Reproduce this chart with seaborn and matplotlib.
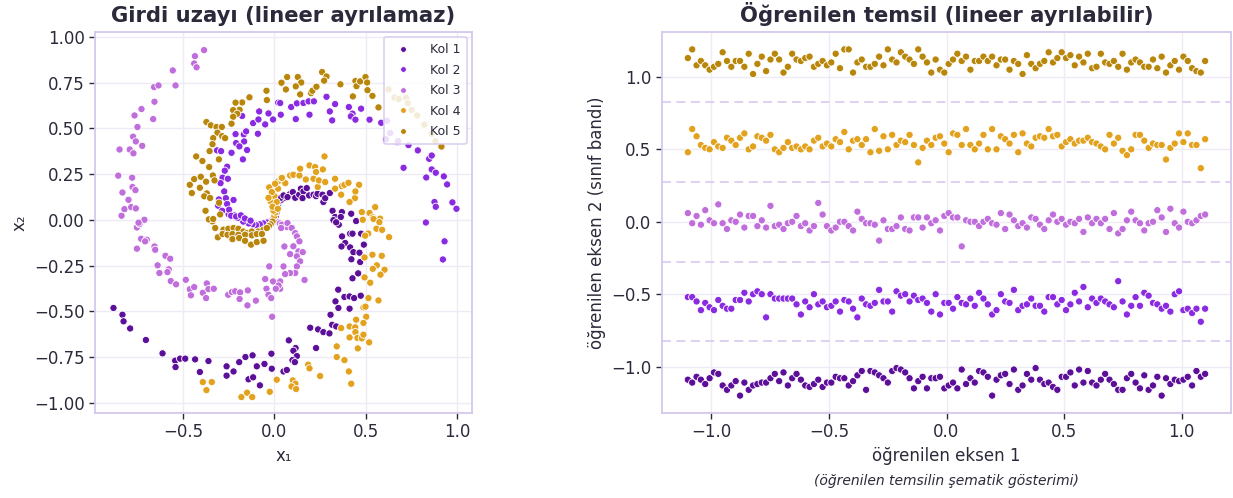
import numpy as np
import pandas as pd
import matplotlib
matplotlib.use("Agg")
import matplotlib.pyplot as plt
import seaborn as sns

# ---------------- data ----------------
class_names = ["Kol 1", "Kol 2", "Kol 3", "Kol 4", "Kol 5"]
class_colors = ["#5c0f99", "#8a2be2", "#c06edc", "#e2a21e", "#b8860b"]

# Input space (spiral arms), (x1, x2)
kol1_pts = [
    (0.003, 0.005), (0.008, 0.02), (0.012, 0.04), (0.016, 0.06), (0.02, 0.08), (0.025, 0.10),
    (0.04, 0.11), (0.06, 0.12), (0.085, 0.14),
    (0.032, 0.118), (0.050, 0.133), (0.072, 0.124), (0.101, 0.151), (0.114, 0.120), (0.136, 0.137),
    (0.145, 0.170), (0.159, 0.155), (0.154, 0.118), (0.177, 0.173), (0.190, 0.133), (0.214, 0.137),
    (0.228, 0.129), (0.236, 0.142), (0.263, 0.137), (0.268, 0.097), (0.278, 0.118), (0.303, 0.146),
    (0.318, 0.049), (0.332, 0.015), (0.369, 0.042), (0.363, 0.015), (0.420, 0.033), (0.447, -0.007),
    (0.323, -0.002), (0.352, -0.027), (0.338, -0.014), (0.370, -0.091), (0.414, -0.076), (0.427, -0.076),
    (0.474, -0.076), (0.387, -0.127), (0.367, -0.146), (0.414, -0.151), (0.432, -0.177), (0.465, -0.180),
    (0.489, -0.136), (0.421, -0.216), (0.469, -0.231), (0.458, -0.293), (0.427, -0.320), (0.349, -0.382),
    (0.383, -0.422), (0.411, -0.419), (0.436, -0.428), (0.472, -0.415), (0.334, -0.446), (0.350, -0.482),
    (0.411, -0.486), (0.307, -0.519), (0.316, -0.574), (0.338, -0.583), (0.196, -0.590), (0.239, -0.599),
    (0.268, -0.614), (0.301, -0.621), (0.079, -0.659), (0.116, -0.701), (0.104, -0.716), (0.123, -0.745),
    (0.099, -0.767), (0.112, -0.778), (0.050, -0.829), (0.068, -0.821), (0.228, -0.701),
    (-0.879, -0.482), (-0.830, -0.519), (-0.824, -0.555), (-0.788, -0.594), (-0.702, -0.657),
    (-0.611, -0.730), (-0.542, -0.770), (-0.540, -0.805), (-0.515, -0.759), (-0.487, -0.759),
    (-0.433, -0.763), (-0.360, -0.772), (-0.407, -0.832), (-0.261, -0.801), (-0.261, -0.852),
    (-0.223, -0.829), (-0.192, -0.778), (-0.158, -0.750), (-0.119, -0.741), (-0.096, -0.801),
    (-0.054, -0.788), (-0.014, -0.814), (-0.141, -0.872), (-0.116, -0.861), (-0.079, -0.905),
    (-0.016, -0.732),
]
kol2_pts = [
    (-0.01, 0.0), (-0.02, -0.01), (-0.04, -0.015), (-0.06, -0.02), (-0.08, -0.025), (-0.10, -0.03),
    (-0.12, -0.025), (-0.14, -0.02), (-0.17, -0.01), (-0.20, 0.01), (-0.22, 0.025), (-0.25, 0.03),
    (0.021, 0.640), (0.035, 0.574), (-0.083, 0.592), (-0.032, 0.581), (-0.007, 0.548), (-0.116, 0.528),
    (-0.087, 0.548), (-0.050, 0.521), (-0.090, 0.470), (-0.176, 0.567), (-0.167, 0.466), (-0.212, 0.468),
    (-0.234, 0.366), (-0.154, 0.483), (-0.165, 0.428), (-0.209, 0.419), (-0.191, 0.401), (-0.149, 0.381),
    (-0.172, 0.330), (-0.313, 0.379), (-0.291, 0.375), (-0.258, 0.290), (-0.271, 0.268), (-0.283, 0.230),
    (-0.254, 0.224), (-0.294, 0.200), (-0.274, 0.155), (-0.265, 0.118), (-0.223, 0.108), (-0.303, 0.111),
    (-0.307, 0.077), (-0.285, 0.049), (-0.258, 0.086), (-0.247, 0.055), (-0.236, 0.022), (-0.209, 0.018),
    (-0.183, 0.024), (-0.161, 0.007), (-0.130, -0.005),
    (0.032, 0.638), (0.092, 0.616), (0.123, 0.636), (0.159, 0.638), (0.187, 0.647), (0.216, 0.647),
    (0.192, 0.574), (0.117, 0.550), (0.285, 0.672), (0.332, 0.632), (0.303, 0.592), (0.316, 0.543),
    (0.407, 0.616), (0.427, 0.580), (0.418, 0.565), (0.443, 0.547), (0.474, 0.607), (0.520, 0.547),
    (0.584, 0.530), (0.615, 0.541), (0.609, 0.434), (0.633, 0.474), (0.673, 0.424), (0.733, 0.408),
    (0.784, 0.379), (0.846, 0.333), (0.860, 0.351), (0.706, 0.284), (0.830, 0.231), (0.860, 0.275),
    (0.882, 0.257), (0.926, 0.237), (0.944, 0.193), (0.875, 0.097), (0.882, 0.071), (0.973, 0.095),
    (0.995, 0.060), (0.828, -0.015), (0.930, -0.118), (0.921, -0.217), (0.61, 0.44), (0.676, 0.43),
]
kol3_pts = [
    (0.01, -0.01), (0.02, -0.015), (0.03, -0.02), (0.05, -0.03), (0.07, -0.04),
    (0.041, -0.027), (0.072, -0.018), (0.095, -0.045), (0.114, -0.073), (0.123, -0.091), (0.137, -0.118),
    (0.104, -0.145), (0.132, -0.173), (0.155, -0.177), (0.086, -0.188), (0.054, -0.149), (0.123, -0.200),
    (0.141, -0.227), (0.123, -0.255), (0.114, -0.291), (0.050, -0.255), (0.086, -0.291), (0.059, -0.297),
    (0.165, -0.329), (0.032, -0.337), (0.032, -0.377),
    (-0.751, -0.042), (-0.737, -0.024), (-0.710, 0.000), (-0.728, -0.104), (-0.697, -0.109),
    (-0.706, -0.118), (-0.751, -0.158), (-0.655, -0.146), (-0.651, -0.164), (-0.595, -0.197),
    (-0.569, -0.213), (-0.638, -0.249), (-0.577, -0.271), (-0.584, -0.286), (-0.628, -0.291),
    (-0.566, -0.335), (-0.537, -0.353), (-0.484, -0.328), (-0.462, -0.380), (-0.438, -0.368),
    (-0.456, -0.413), (-0.391, -0.399), (-0.369, -0.348), (-0.360, -0.379), (-0.331, -0.377),
    (-0.373, -0.428), (-0.252, -0.410), (-0.232, -0.395), (-0.214, -0.391), (-0.187, -0.397),
    (-0.145, -0.386), (-0.190, -0.433), (-0.147, -0.468), (-0.101, -0.442), (-0.012, -0.530),
    (-0.050, -0.324), (-0.028, -0.255), (-0.007, -0.337), (0.023, -0.359), (0.008, -0.377),
    (-0.043, -0.377), (-0.032, -0.410), (-0.017, -0.428), (0.037, -0.045), (0.055, -0.146),
    (-0.384, 0.927), (-0.434, 0.894), (-0.438, 0.854), (-0.425, 0.833), (-0.555, 0.816), (-0.540, 0.734),
    (-0.657, 0.725), (-0.633, 0.734), (-0.655, 0.645), (-0.726, 0.605), (-0.764, 0.570), (-0.662, 0.550),
    (-0.748, 0.507), (-0.772, 0.454), (-0.757, 0.428), (-0.722, 0.404), (-0.846, 0.384), (-0.790, 0.384),
    (-0.770, 0.363), (-0.853, 0.241), (-0.777, 0.230), (-0.775, 0.179), (-0.759, 0.162), (-0.830, 0.149),
    (-0.797, 0.109), (-0.819, 0.058), (-0.782, 0.069), (-0.757, 0.062), (-0.835, 0.022), (-0.742, -0.016),
]
kol4_pts = [
    (0.0, 0.02), (0.005, 0.04), (-0.005, 0.05), (0.01, 0.08), (-0.02, 0.10), (0.0, 0.13), (0.02, 0.17),
    (0.05, 0.21), (0.06, 0.20), (0.02, 0.21), (0.037, 0.229), (-0.028, 0.177), (0.004, 0.197),
    (-0.014, 0.151), (-0.032, 0.120), (0.013, 0.097), (-0.010, 0.071), (0.019, 0.060),
    (0.041, 0.229), (0.086, 0.242), (0.104, 0.246), (0.137, 0.242), (0.141, 0.279), (0.192, 0.297),
    (0.223, 0.288), (0.228, 0.261), (0.274, 0.346), (0.265, 0.275), (0.172, 0.220), (0.214, 0.224),
    (0.237, 0.179), (0.243, 0.215), (0.278, 0.206), (0.332, 0.224), (0.332, 0.170), (0.369, 0.184),
    (0.383, 0.191), (0.405, 0.202), (0.463, 0.191), (0.365, 0.137), (0.440, 0.118), (0.411, 0.097),
    (0.443, 0.155), (0.478, 0.042), (0.520, 0.037), (0.551, 0.069), (0.538, 0.013), (0.578, 0.006),
    (0.483, 0.000), (0.542, 0.004), (0.574, -0.013), (0.558, -0.049), (0.589, -0.055), (0.627, -0.095),
    (0.513, -0.075), (0.496, -0.087), (0.536, -0.191), (0.587, -0.197), (0.493, -0.206), (0.560, -0.249),
    (0.538, -0.268), (0.602, -0.273), (0.580, -0.300), (0.493, -0.315), (0.524, -0.344), (0.514, -0.428),
    (0.569, -0.441), (0.487, -0.479), (0.498, -0.475), (0.502, -0.530), (0.447, -0.546), (0.487, -0.564),
    (0.411, -0.583), (0.442, -0.588), (0.365, -0.592), (0.443, -0.614), (0.411, -0.643), (0.454, -0.646),
    (0.478, -0.648), (0.487, -0.628), (0.518, -0.670), (0.341, -0.692), (0.456, -0.703), (0.341, -0.750),
    (0.383, -0.767), (0.185, -0.792), (0.192, -0.812), (0.407, -0.829), (0.250, -0.854), (0.420, -0.896),
    (0.101, -0.878), (0.115, -0.896), (0.094, -0.911), (0.119, -0.925),
    (-0.391, -0.887), (-0.342, -0.887), (-0.371, -0.931), (-0.180, -0.969), (-0.149, -0.945),
    (-0.121, -0.969), (-0.025, -0.940), (0.013, -0.874),
]
kol5_pts = [
    (-0.01, -0.01), (-0.02, -0.025), (-0.03, -0.035),
    (-0.354, 0.000), (-0.338, -0.009), (-0.278, -0.054), (-0.251, -0.049), (-0.223, -0.045),
    (-0.196, -0.049), (-0.169, -0.064), (-0.150, -0.073), (-0.123, -0.064), (-0.087, -0.064),
    (-0.059, -0.054), (-0.041, -0.045), (-0.309, -0.096), (-0.283, -0.078), (-0.256, -0.082),
    (-0.229, -0.078), (-0.196, -0.082), (-0.160, -0.082), (-0.123, -0.085), (-0.096, -0.078),
    (-0.068, -0.078), (-0.229, -0.106), (-0.192, -0.100), (-0.160, -0.115), (-0.127, -0.136),
    (-0.096, -0.122), (-0.059, -0.115), (-0.323, -0.045),
    (0.037, 0.747), (-0.043, 0.705), (-0.041, 0.654), (-0.136, 0.669), (-0.176, 0.641), (-0.212, 0.640),
    (-0.190, 0.601), (-0.225, 0.599), (-0.203, 0.579), (-0.225, 0.563), (-0.234, 0.525), (-0.371, 0.534),
    (-0.347, 0.516), (-0.316, 0.507), (-0.287, 0.507), (-0.311, 0.476), (-0.285, 0.457), (-0.269, 0.446),
    (-0.334, 0.446), (-0.338, 0.413), (-0.354, 0.375), (-0.303, 0.330), (-0.427, 0.346), (-0.393, 0.321),
    (-0.356, 0.288), (-0.336, 0.242), (-0.438, 0.222), (-0.402, 0.235), (-0.373, 0.208), (-0.327, 0.215),
    (-0.462, 0.191), (-0.407, 0.175), (-0.451, 0.146), (-0.369, 0.144), (-0.383, 0.128), (-0.351, 0.119),
    (-0.302, 0.093), (-0.296, 0.029), (-0.376, 0.049), (-0.358, 0.002), (-0.334, 0.004),
    (0.039, 0.749), (0.070, 0.780), (0.128, 0.780), (0.147, 0.750), (0.063, 0.712), (0.117, 0.729),
    (0.141, 0.685), (0.201, 0.692), (0.208, 0.705), (0.230, 0.727), (0.261, 0.807), (0.285, 0.783),
    (0.272, 0.760), (0.361, 0.740), (0.429, 0.674), (0.443, 0.758), (0.449, 0.730), (0.469, 0.756),
    (0.498, 0.780), (0.507, 0.750), (0.509, 0.708), (0.536, 0.677), (0.569, 0.614), (0.624, 0.712),
    (0.656, 0.668), (0.720, 0.666), (0.729, 0.637), (0.68, 0.66), (0.75, 0.60), (0.78, 0.57),
    (0.82, 0.52), (0.86, 0.47), (0.88, 0.43), (0.913, 0.400),
]

# Learned representation: 120 samples per class along axis 1, axis-2 values read per point
n_per_class = 120
axis1_positions = np.linspace(-1.1, 1.1, n_per_class)
band_kol5 = [1.13,1.19,1.08,1.11,1.08,1.05,1.07,1.09,1.17,1.11,
             1.07,1.11,1.11,1.07,1.16,1.02,1.09,1.14,1.04,1.12,
             1.16,1.12,1.03,1.07,1.16,1.12,1.11,1.13,1.14,1.07,
             1.09,1.11,1.08,1.10,1.16,1.06,1.19,1.19,1.03,1.10,
             1.12,1.07,1.07,1.09,1.14,1.08,1.19,1.12,1.10,1.17,
             1.14,1.12,1.09,1.19,1.14,1.10,1.03,1.12,1.05,1.03,
             1.09,1.12,1.16,1.11,1.14,1.05,1.11,1.11,1.14,1.11,
             1.14,1.08,1.12,1.12,1.05,1.11,1.09,1.02,1.15,1.09,
             1.06,1.09,1.11,1.17,1.10,1.13,1.17,1.13,1.15,1.08,
             1.14,1.10,1.16,1.06,1.07,1.16,1.10,1.09,1.11,1.07,
             1.16,1.05,1.10,1.12,1.10,1.07,1.07,1.12,1.06,1.14,
             1.03,1.08,1.11,1.05,1.14,1.11,1.06,1.04,1.03,1.11]
band_kol4 = [0.48,0.64,0.59,0.53,0.51,0.50,0.55,0.52,0.51,0.58,
             0.56,0.53,0.58,0.61,0.50,0.52,0.59,0.58,0.56,0.60,
             0.50,0.48,0.51,0.55,0.51,0.52,0.50,0.52,0.50,0.56,
             0.58,0.52,0.54,0.52,0.57,0.55,0.62,0.50,0.56,0.57,
             0.53,0.57,0.48,0.64,0.49,0.59,0.50,0.60,0.53,0.56,
             0.55,0.60,0.53,0.41,0.51,0.56,0.53,0.58,0.59,0.54,
             0.48,0.61,0.60,0.53,0.64,0.53,0.50,0.54,0.60,0.50,
             0.64,0.50,0.59,0.57,0.54,0.60,0.48,0.61,0.54,0.52,
             0.58,0.59,0.58,0.64,0.59,0.60,0.52,0.55,0.57,0.54,
             0.56,0.56,0.58,0.55,0.54,0.52,0.50,0.60,0.54,0.58,
             0.49,0.46,0.50,0.60,0.60,0.56,0.51,0.54,0.53,0.53,
             0.43,0.51,0.54,0.61,0.55,0.61,0.53,0.53,0.37,0.57]
band_kol3 = [0.06,-0.01,0.04,-0.02,0.08,0.01,-0.01,0.12,-0.01,-0.05,
             0.01,0.00,0.05,-0.04,0.04,0.04,-0.03,0.01,-0.04,0.11,
             -0.03,-0.02,-0.05,-0.01,0.00,0.04,-0.03,-0.01,-0.06,-0.03,
             0.13,0.05,-0.03,-0.06,-0.04,0.00,0.00,-0.03,-0.06,0.07,
             0.02,-0.01,-0.01,-0.02,-0.13,0.01,-0.05,-0.05,-0.03,0.03,
             -0.05,-0.06,0.03,0.03,-0.04,0.03,-0.01,0.01,-0.06,0.04,
             0.06,0.03,0.03,-0.17,0.01,0.00,0.00,-0.03,0.00,0.02,
             -0.01,-0.02,0.06,-0.05,0.05,0.01,-0.03,-0.01,-0.04,0.03,
             0.02,-0.02,-0.05,0.01,0.05,0.00,0.02,-0.02,0.00,-0.01,
             0.02,-0.07,0.03,-0.01,0.02,-0.01,0.02,-0.05,0.06,-0.08,
             -0.05,0.01,0.07,0.01,-0.01,-0.06,-0.01,0.00,0.08,0.03,
             -0.07,0.09,-0.01,-0.04,0.07,0.00,-0.01,0.01,0.04,0.05]
band_kol2 = [-0.52,-0.52,-0.55,-0.61,-0.56,-0.59,-0.61,-0.54,-0.58,-0.60,
             -0.60,-0.54,-0.54,-0.49,-0.55,-0.50,-0.48,-0.50,-0.66,-0.50,
             -0.53,-0.53,-0.53,-0.53,-0.53,-0.57,-0.64,-0.55,-0.59,-0.50,
             -0.57,-0.55,-0.59,-0.58,-0.55,-0.62,-0.54,-0.55,-0.60,-0.66,
             -0.53,-0.57,-0.58,-0.56,-0.47,-0.55,-0.55,-0.62,-0.48,-0.51,
             -0.50,-0.55,-0.51,-0.54,-0.53,-0.56,-0.62,-0.50,-0.64,-0.56,
             -0.56,-0.60,-0.52,-0.56,-0.57,-0.53,-0.58,-0.49,-0.53,-0.57,
             -0.64,-0.61,-0.50,-0.55,-0.56,-0.47,-0.61,-0.58,-0.57,-0.53,
             -0.58,-0.58,-0.62,-0.52,-0.52,-0.57,-0.54,-0.61,-0.57,-0.49,
             -0.55,-0.45,-0.59,-0.53,-0.56,-0.53,-0.55,-0.57,-0.59,-0.41,
             -0.55,-0.64,-0.58,-0.52,-0.58,-0.49,-0.51,-0.56,-0.57,-0.60,
             -0.58,-0.62,-0.50,-0.48,-0.61,-0.60,-0.63,-0.60,-0.69,-0.60]
band_kol1 = [-1.09,-1.11,-1.07,-1.09,-1.12,-1.08,-1.04,-1.05,-1.13,-1.16,
             -1.13,-1.10,-1.20,-1.11,-1.16,-1.13,-1.12,-1.11,-1.11,-1.08,
             -1.05,-1.10,-1.04,-1.13,-1.08,-1.05,-1.09,-1.13,-1.14,-1.12,
             -1.09,-1.14,-1.11,-1.11,-1.07,-1.08,-1.08,-1.13,-1.10,-1.06,
             -1.03,-1.16,-1.03,-1.04,-1.06,-1.08,-1.11,-1.03,-1.01,-1.02,
             -1.04,-1.08,-1.15,-1.10,-1.07,-1.15,-1.08,-1.08,-1.07,-1.15,
             -1.13,-1.11,-1.15,-1.02,-1.12,-1.08,-1.11,-1.03,-1.04,-1.07,
             -1.20,-1.09,-1.06,-1.05,-1.12,-1.02,-1.16,-1.13,-1.05,-1.09,
             -1.01,-1.09,-1.12,-1.11,-1.14,-1.16,-1.07,-1.07,-1.04,-1.13,
             -1.02,-1.11,-1.03,-1.11,-1.13,-1.09,-1.05,-1.09,-1.12,-1.16,
             -1.16,-1.08,-1.05,-1.11,-1.15,-1.06,-1.16,-1.13,-1.07,-1.20,
             -1.08,-1.12,-1.09,-1.10,-1.09,-1.07,-1.13,-1.03,-1.07,-1.05]
band_boundaries = [-0.825, -0.275, 0.275, 0.825]

# ---------------- tables ----------------
arm_lists = [kol1_pts, kol2_pts, kol3_pts, kol4_pts, kol5_pts]
rows = []
for name, pts in zip(class_names, arm_lists):
    for x, y in pts:
        rows.append({"x1": x, "x2": y, "Kol": name})
df_in = pd.DataFrame(rows)

band_lists = [band_kol1, band_kol2, band_kol3, band_kol4, band_kol5]
rows = []
for name, vals in zip(class_names, band_lists):
    for x, y in zip(axis1_positions, vals):
        rows.append({"e1": x, "e2": y, "Kol": name})
df_rep = pd.DataFrame(rows)

palette = dict(zip(class_names, class_colors))

# ---------------- style ----------------
sns.set_theme(style="whitegrid")
text_col = "#2b2a3a"
spine_col = "#d6c8ec"
plt.rcParams.update({
    "font.family": ["DejaVu Sans"],
    "axes.edgecolor": spine_col,
    "axes.linewidth": 1.3,
    "grid.color": "#eeeaf6",
    "grid.linewidth": 1.0,
    "xtick.bottom": True,
    "ytick.left": True,
    "xtick.major.size": 4,
    "ytick.major.size": 4,
    "xtick.major.width": 1.0,
    "ytick.major.width": 1.0,
    "xtick.color": text_col,
    "ytick.color": text_col,
    "xtick.labelsize": 12,
    "ytick.labelsize": 12,
    "axes.labelcolor": text_col,
    "text.color": text_col,
})

fig = plt.figure(figsize=(12.33, 4.98), dpi=100)
W, H = 1233, 498
ax1 = fig.add_axes([95 / W, 1 - 413 / H, (472 - 95) / W, (413 - 32) / H])
ax2 = fig.add_axes([662 / W, 1 - 413 / H, (1231 - 662) / W, (413 - 32) / H])

marker_kw = dict(s=27, edgecolor="white", linewidth=0.6, alpha=1.0)

# Left: input space
sns.scatterplot(data=df_in, x="x1", y="x2", hue="Kol", hue_order=class_names,
                palette=palette, ax=ax1, **marker_kw)
ax1.set_xlim(-0.98, 1.08)
ax1.set_ylim(-1.056, 1.026)
ax1.set_xticks([-0.5, 0.0, 0.5, 1.0])
ax1.set_yticks([-1.0, -0.75, -0.5, -0.25, 0.0, 0.25, 0.5, 0.75, 1.0])
ax1.set_yticklabels(["\u22121.00", "\u22120.75", "\u22120.50", "\u22120.25", "0.00",
                     "0.25", "0.50", "0.75", "1.00"])
ax1.set_xlabel("x\u2081", fontsize=12)
ax1.set_ylabel("x\u2082", fontsize=12)
ax1.set_title("Girdi uzayı (lineer ayrılamaz)", fontsize=15.2, fontweight="bold",
              color=text_col, pad=7)
leg = ax1.legend(loc="upper right", fontsize=9, frameon=True, markerscale=0.8,
                 borderpad=0.5, labelspacing=0.6, handletextpad=1.2,
                 borderaxespad=0.4, bbox_to_anchor=(1.0, 1.0))
leg.get_frame().set_edgecolor(spine_col)
leg.get_frame().set_linewidth(1.2)
leg.get_frame().set_alpha(0.85)

# Right: learned representation
for b in band_boundaries:
    ax2.axhline(b, color="#dccdf0", linestyle=(0, (5, 3)), linewidth=1.3, zorder=1)
sns.scatterplot(data=df_rep, x="e1", y="e2", hue="Kol", hue_order=class_names,
                palette=palette, ax=ax2, legend=False, zorder=3, **marker_kw)
ax2.set_xlim(-1.21, 1.21)
ax2.set_ylim(-1.32, 1.31)
ax2.set_xticks([-1.0, -0.5, 0.0, 0.5, 1.0])
ax2.set_yticks([-1.0, -0.5, 0.0, 0.5, 1.0])
ax2.set_xlabel("öğrenilen eksen 1", fontsize=12)
ax2.set_ylabel("öğrenilen eksen 2 (sınıf bandı)", fontsize=12)
ax2.set_title("Öğrenilen temsil (lineer ayrılabilir)", fontsize=15.2, fontweight="bold",
              color=text_col, pad=7)
ax2.text(0.5, -0.178, "(öğrenilen temsilin şematik gösterimi)", transform=ax2.transAxes,
         ha="center", va="center", fontsize=10, style="italic", color=text_col)

for ax in (ax1, ax2):
    for s in ax.spines.values():
        s.set_color(spine_col)
        s.set_linewidth(1.3)

fig.savefig("out.png", dpi=100)
